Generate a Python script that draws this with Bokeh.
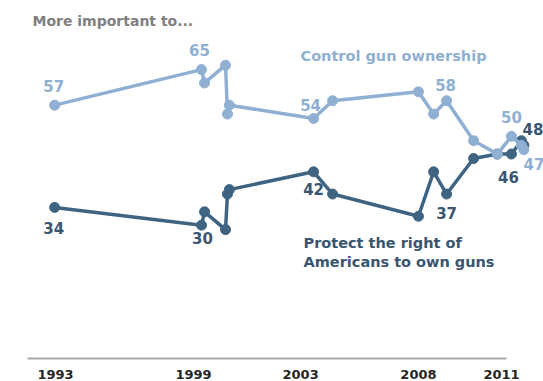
from bokeh.plotting import figure
from bokeh.models import ColumnDataSource, Label, FixedTicker, Range1d
from bokeh.core.properties import value
from bokeh.embed import file_html
from bokeh.resources import INLINE

# ---- data ----
years = [1993.92, 1999.24, 1999.35, 2000.11, 2000.18, 2000.25, 2003.30, 2003.99,
         2007.10, 2007.65, 2008.12, 2009.10, 2009.96, 2010.47, 2010.83, 2010.92]
control = [57, 65, 62, 66, 55, 57, 54, 58, 60, 55, 58, 49, 46, 50, 48, 47]
rights = [34, 30, 33, 29, 37, 38, 42, 37, 32, 42, 37, 45, 46, 46, 49, 48]

tick_pos = [1993.95, 1998.95, 2002.83, 2007.10, 2010.11]
tick_labels = ["1993", "1999", "2003", "2008", "2011"]

control_label_idx = [0, 1, 6, 10, 13, 15]
rights_label_idx = [0, 1, 6, 10, 13, 15]

# ---- styling ----
LIGHT = "#8fb0d2"
DARK = "#3e6482"
DARK_TXT = "#3a5570"
FONT = "DejaVu Sans"
W, H = 543, 381
X0, X1 = 1991.957, 2011.631
Y0, Y1 = 0, 80.55
FRAME_H = 359

def px2x(px):
    return X0 + px / W * (X1 - X0)

def px2y(py):
    return (FRAME_H - py) / FRAME_H * (Y1 - Y0)

p = figure(width=W, height=H, output_backend="svg", toolbar_location=None,
           x_range=Range1d(X0, X1), y_range=Range1d(Y0, Y1),
           y_axis_location=None, min_border_left=0, min_border_right=0,
           min_border_top=0, min_border_bottom=H - FRAME_H)
p.outline_line_color = None
p.grid.visible = False
p.background_fill_color = "white"
p.border_fill_color = "white"

ax = p.xaxis[0]
ax.ticker = FixedTicker(ticks=tick_pos)
ax.major_label_overrides = dict(zip(tick_pos, tick_labels))
ax.major_tick_line_color = None
ax.minor_tick_line_color = None
ax.axis_line_color = "#a8a8a8"
ax.axis_line_width = 2
ax.bounds = (px2x(27), px2x(506))
ax.major_label_standoff = 5
ax.major_label_text_font = FONT
ax.major_label_text_font_style = "bold"
ax.major_label_text_font_size = "13px"
ax.major_label_text_color = "#262626"

src = ColumnDataSource(dict(x=years, c=control, r=rights))
p.line("x", "r", source=src, line_color=DARK, line_width=3.5, line_join="round")
p.scatter("x", "r", source=src, size=10, fill_color=DARK, line_color=DARK)
p.line("x", "c", source=src, line_color=LIGHT, line_width=3.5, line_join="round")
p.scatter("x", "c", source=src, size=10, fill_color=LIGHT, line_color=LIGHT)

# value labels anchored on the data points, offset in pixels
c_off = [(-1, -19), (-2, -20), (-3, -14), (-1, -16), (0, -19), (10, 14)]
r_off = [(-1, 21), (1, 13), (0, 17), (0, 19), (-3, 23), (9, -16)]

csrc = ColumnDataSource(dict(
    x=[years[i] for i in control_label_idx],
    y=[control[i] for i in control_label_idx],
    t=[str(control[i]) for i in control_label_idx],
    dx=[o[0] for o in c_off], dy=[o[1] for o in c_off]))
rsrc = ColumnDataSource(dict(
    x=[years[i] for i in rights_label_idx],
    y=[rights[i] for i in rights_label_idx],
    t=[str(rights[i]) for i in rights_label_idx],
    dx=[o[0] for o in r_off], dy=[o[1] for o in r_off]))

p.text("x", "y", text="t", x_offset="dx", y_offset="dy", source=csrc,
       text_align="center", text_baseline="middle", text_font=value(FONT),
       text_font_style="bold", text_font_size="15px", text_color=LIGHT)
p.text("x", "y", text="t", x_offset="dx", y_offset="dy", source=rsrc,
       text_align="center", text_baseline="middle", text_font=value(FONT),
       text_font_style="bold", text_font_size="15px", text_color=DARK_TXT)

def add_label(txt, px, py, color, size="14px"):
    p.add_layout(Label(x=px2x(px), y=px2y(py), text=txt, text_align="left",
                       text_baseline="middle", text_font=FONT,
                       text_font_style="bold", text_font_size=size,
                       text_color=color))

add_label("More important to...", 32, 21, "#808080", "14px")
add_label("Control gun ownership", 300, 56, LIGHT, "14.5px")
add_label("Protect the right of", 303, 243, DARK_TXT, "14.5px")
add_label("Americans to own guns", 303, 262, DARK_TXT, "14.5px")

open("out.html", "w").write(file_html(p, INLINE))
